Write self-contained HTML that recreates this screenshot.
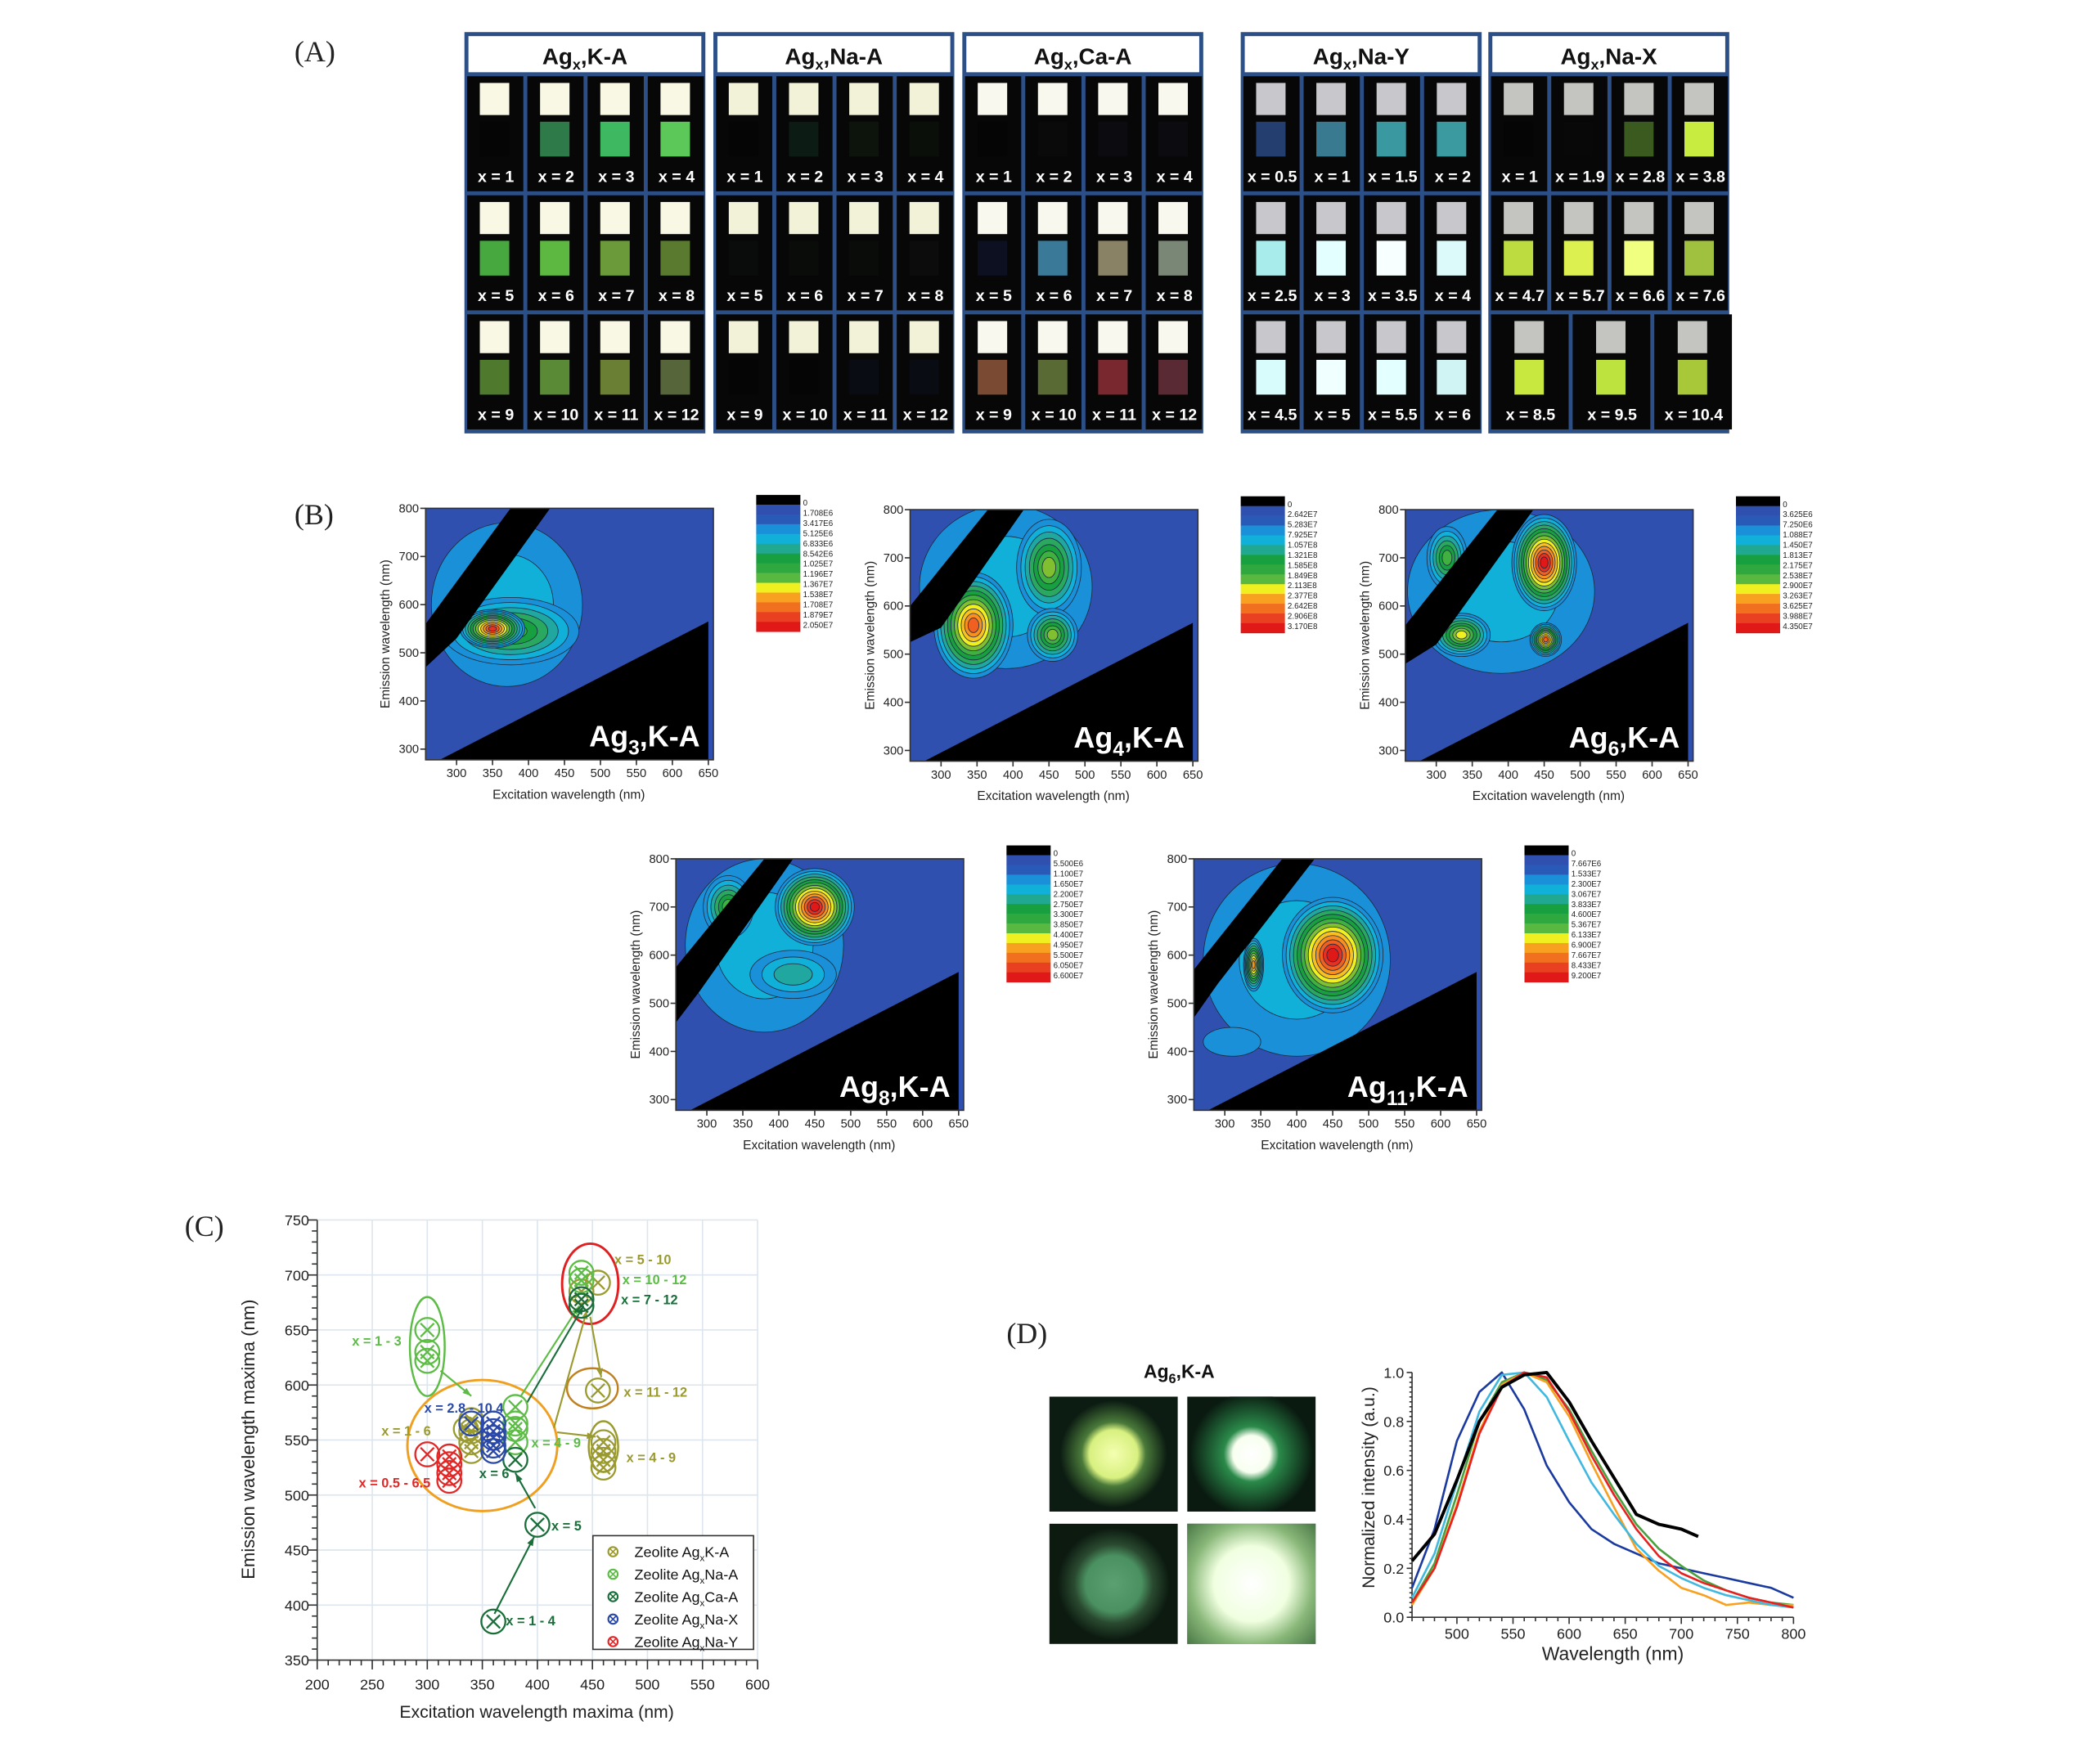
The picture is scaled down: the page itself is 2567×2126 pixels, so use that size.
<!DOCTYPE html>
<html><head><meta charset="utf-8"><style>
html,body{margin:0;padding:0;background:#fff;}
svg{display:block;font-family:"Liberation Sans",sans-serif;}
.serif{font-family:"Liberation Serif",serif;}
</style></head>
<body>
<svg id="fig" width="2567" height="2126" viewBox="0 0 1569 1300" preserveAspectRatio="none" xmlns="http://www.w3.org/2000/svg">
<defs>
<radialGradient id="g1"><stop offset="0" stop-color="#f4ffb0"/><stop offset="0.45" stop-color="#d8f080"/><stop offset="0.6" stop-color="#4a7a3a"/><stop offset="1" stop-color="#0c1c12"/></radialGradient>
<radialGradient id="g2"><stop offset="0" stop-color="#ffffff"/><stop offset="0.3" stop-color="#f8fff0"/><stop offset="0.45" stop-color="#2a8a4a"/><stop offset="1" stop-color="#0a1a10"/></radialGradient>
<radialGradient id="g3"><stop offset="0" stop-color="#5aa070"/><stop offset="0.5" stop-color="#4a9060"/><stop offset="0.7" stop-color="#2a4a30"/><stop offset="1" stop-color="#0c1a10"/></radialGradient>
<radialGradient id="g4"><stop offset="0" stop-color="#ffffff"/><stop offset="0.4" stop-color="#f0ffe0"/><stop offset="0.65" stop-color="#8ab87a"/><stop offset="1" stop-color="#3a6a3a"/></radialGradient>
</defs>
<g id="panelA"></g>
<g id="panelB"></g>
<g id="panelC"></g>
<g id="panelD"></g>
</svg>
<script>
const NS="http://www.w3.org/2000/svg";
function mk(parent,tag,attrs,text){const e=document.createElementNS(NS,tag);for(const k in attrs)e.setAttribute(k,attrs[k]);if(text!==undefined)e.textContent=text;parent.appendChild(e);return e;}

/* ---------------- Panel A ---------------- */
const aGroups=["K-A","Na-A","Ca-A","Na-Y","Na-X"];
const aGroupX=[347,533,719,927,1112];
const aLabels=[
 ["1","2","3","4","5","6","7","8","9","10","11","12"],
 ["1","2","3","4","5","6","7","8","9","10","11","12"],
 ["1","2","3","4","5","6","7","8","9","10","11","12"],
 ["0.5","1","1.5","2","2.5","3","3.5","4","4.5","5","5.5","6"],
 ["1","1.9","2.8","3.8","4.7","5.7","6.6","7.6","8.5","9.5","10.4"]];
const aGlow=[
 ["#050505","#2e7a48","#3fb862","#5cc85a","#48a840","#5cb840","#6a9a3a","#5a7a30","#4f7a2e","#5a8a36","#6a7e34","#56663a"],
 ["#050505","#0c1c14","#0c140c","#0a0f0a","#0a0c0c","#0a0c0a","#0a0c0a","#0c0c0c","#050505","#050505","#0a0c14","#0a0c14"],
 ["#050505","#0a0a0a","#0c0c10","#0c0c10","#0c1020","#3a7a98","#8a8264","#7a8676","#7a4a32","#5a6a34","#7a2830","#5a2a34"],
 ["#243e70","#3a7a90","#3a98a0","#3a9aa0","#a8ecec","#e4ffff","#f8ffff","#dcfafa","#d8fcfc","#f0ffff","#e4ffff","#d0f4f4"],
 ["#050505","#080808","#3a5a20","#c8ec40","#bcdc40","#dcf050","#f0ff80","#a0c040","#c8e840","#bde43e","#a8c83a"]];
const aTop=["#f8f8e4","#f2f2d8","#f8f8ee","#c8c8cc","#c4c4c0"];
(function(){
 const g=document.getElementById('panelA');
 const t=mk(g,'text',{x:220,y:46,'font-size':22,class:'serif',fill:'#222'},'(A)');
 
 aGroups.forEach((name,gi)=>{
  const x0=aGroupX[gi];
  const box=mk(g,'g',{});
  mk(box,'rect',{x:x0,y:24,width:180,height:300,fill:'#2b4f86'});
  mk(box,'rect',{x:x0+3,y:27,width:174,height:27,fill:'#fff'});
  const ht=mk(box,'text',{x:x0+90,y:48,'text-anchor':'middle','font-size':17,'font-weight':'bold',fill:'#111'});
  
  mk(ht,'tspan',{},'Ag');mk(ht,'tspan',{'font-size':11,dy:4},'x');mk(ht,'tspan',{dy:-4},','+name);
  const labs=aLabels[gi];
  labs.forEach((lb,i)=>{
   const row=Math.floor(i/4);let col=i%4, n=4;
   if(gi===4&&row===2){n=3;}
   const w=(n===3?183:180)/n;
   const cx=x0+col*w, cy=57+row*89;
   const cell=mk(box,'g',{});
   mk(cell,'rect',{x:cx+2,y:cy,width:w-3,height:86,fill:'#070707'});
   mk(cell,'rect',{x:cx+w/2-11,y:cy+5,width:22,height:24,fill:aTop[gi]});
   mk(cell,'rect',{x:cx+w/2-11,y:cy+34,width:22,height:26,fill:aGlow[gi][i]});
   mk(cell,'text',{x:cx+w/2+1,y:cy+79,'text-anchor':'middle','font-size':12,'font-weight':'bold',fill:'#fff'},'x = '+lb);
  });
 });
})();

/* ---------------- Panel B (excitation-emission maps) ---------------- */
const bTitles=["3","4","6","8","11"];
const bFrameX=[318,680,1050,505,892];
const bFrameY=[380,381,381,642,642];
const bColorbar=[
 ["0","1.708E6","3.417E6","5.125E6","6.833E6","8.542E6","1.025E7","1.196E7","1.367E7","1.538E7","1.708E7","1.879E7","2.050E7"],
 ["0","2.642E7","5.283E7","7.925E7","1.057E8","1.321E8","1.585E8","1.849E8","2.113E8","2.377E8","2.642E8","2.906E8","3.170E8"],
 ["0","3.625E6","7.250E6","1.088E7","1.450E7","1.813E7","2.175E7","2.538E7","2.900E7","3.263E7","3.625E7","3.988E7","4.350E7"],
 ["0","5.500E6","1.100E7","1.650E7","2.200E7","2.750E7","3.300E7","3.850E7","4.400E7","4.950E7","5.500E7","6.050E7","6.600E7"],
 ["0","7.667E6","1.533E7","2.300E7","3.067E7","3.833E7","4.600E7","5.367E7","6.133E7","6.900E7","7.667E7","8.433E7","9.200E7"]];
/* blobs: [excitation, emission, half-width nm, half-height nm, number of contour levels] */
const bBlobs=[
 [[370,600,105,170,2],[375,545,95,70,6],[350,550,45,40,12]],
 [[390,640,120,170,2],[345,560,55,110,11],[450,680,45,100,7],[455,540,35,55,7]],
 [[390,630,130,170,2],[450,690,45,100,13],[452,530,22,35,11],[335,540,40,45,8],[315,700,28,65,6]],
 [[380,620,110,180,2],[450,700,55,80,13],[330,700,35,65,6],[420,560,60,50,3]],
 [[400,590,130,200,2],[450,600,70,120,13],[340,580,14,55,10],[310,420,40,30,1]]];
const bStripe=[[[375,800],[430,800],[300,530],[257,470],[257,560]],[[365,800],[415,800],[300,555],[257,525],[257,600]],[[385,800],[435,800],[300,520],[257,480],[257,560]],[[380,800],[420,800],[290,525],[257,460],[257,575]],[[380,800],[425,800],[290,540],[257,470],[257,570]]];
const bLower=[[277,278],[650,278],[650,565]];
const bTicksX=[300,350,400,450,500,550,600,650];
const bTicksY=[300,400,500,600,700,800];
const levelColors=["#2b4aa6","#1a90d8","#10b0d8","#20a8a0","#2aa860","#18a040","#40b040","#80c030","#f0f020","#f8c020","#f89020","#f06020","#e83020","#e01818"];
(function(){
 const g=document.getElementById('panelB');
 const t=mk(g,'text',{x:220,y:392,'font-size':22,class:'serif',fill:'#222'},'(B)');
 
 bTitles.forEach((ti,p)=>{
  const ox=bFrameX[p], oy=bFrameY[p], W=215, H=188;
  const sx=ex=>ox+(ex-257)*0.5375;
  const sy=em=>oy+(800-em)*0.36;
  const pg=mk(g,'g',{});
  const cid='clip'+p;const cp=mk(pg,'clipPath',{id:cid});mk(cp,'rect',{x:ox,y:oy,width:W,height:H});
  const inner=mk(pg,'g',{'clip-path':'url(#'+cid+')'});
  mk(inner,'rect',{x:ox,y:oy,width:W,height:H,fill:'#3050b0'});
  bBlobs[p].forEach(b=>{
   const n=b[4];
   for(let l=0;l<n;l++){
    const f=1-l/(n+0.6);
    const col=levelColors[Math.min(13,l+1)];
    const e=mk(inner,'ellipse',{cx:sx(b[0]),cy:sy(b[1]),rx:b[2]*0.5375*f,ry:b[3]*0.36*f,fill:col,stroke:'#1a2a40','stroke-width':0.5});
    
   }
  });
  const st=mk(inner,'polygon',{points:bStripe[p].map(q=>sx(q[0])+','+sy(q[1])).join(' '),fill:'#000'});
  
  const lw=mk(inner,'polygon',{points:bLower.map(q=>sx(q[0])+','+sy(q[1])).join(' '),fill:'#000'});
  
  mk(pg,'rect',{x:ox,y:oy,width:W,height:H,fill:'none',stroke:'#333','stroke-width':1});
  bTicksX.forEach(v=>{mk(pg,'line',{x1:sx(v),x2:sx(v),y1:oy+H,y2:oy+H+4,stroke:'#333'});mk(pg,'text',{x:sx(v),y:oy+H+13,'text-anchor':'middle','font-size':9,fill:'#222'},v);});
  bTicksY.forEach(v=>{mk(pg,'line',{x1:ox-4,x2:ox,y1:sy(v),y2:sy(v),stroke:'#333'});mk(pg,'text',{x:ox-5,y:sy(v)+3,'text-anchor':'end','font-size':9,fill:'#222'},v);});
  const xl=mk(pg,'text',{x:ox+107,y:oy+H+29,'text-anchor':'middle','font-size':9.5,fill:'#222'},'Excitation wavelength (nm)');
  
  const yl=mk(pg,'text',{x:0,y:0,transform:'translate('+(ox-27)+','+(oy+94)+') rotate(-90)','text-anchor':'middle','font-size':9.5,fill:'#222'},'Emission wavelength (nm)');
  
  const tt=mk(pg,'text',{x:ox+W-10,y:oy+H-10,'text-anchor':'end','font-size':22,'font-weight':'bold',fill:'#fff'});
  
  mk(tt,'tspan',{},'Ag');mk(tt,'tspan',{'font-size':15,dy:6},ti);mk(tt,'tspan',{dy:-6},',K-A');
  const cx=ox+247, cy=oy-10;
  const cb=mk(pg,'g',{});
  const cbCols=["#000","#3050b0","#2a5ab8","#1a90d8","#10b0d8","#20a890","#18a040","#30a840","#58b840","#f0f020","#f8a020","#f07020","#e84020","#e01818"];
  cbCols.forEach((c,i)=>mk(cb,'rect',{x:cx,y:cy+i*7.3,width:33,height:7.5,fill:c}));
  bColorbar[p].forEach((lb,i)=>mk(cb,'text',{x:cx+35,y:cy+8+i*7.6,'font-size':6,fill:'#222'},lb));
 });
})();

/* ---------------- Panel C (scatter) ---------------- */
const cSeries=["Zeolite Ag|K-A","Zeolite Ag|Na-A","Zeolite Ag|Ca-A","Zeolite Ag|Na-X","Zeolite Ag|Na-Y"];
const cColors=["#9a9a30","#5cbc45","#1a6e3a","#2a48a8","#e02828"];
const cKAx=[335,340,340,340,340,455,440,455,460,460,460,460];
const cKAy=[560,568,558,548,540,693,685,595,548,540,532,525];
const cNaAx=[300,300,300,380,380,380,380,440,440];
const cNaAy=[650,630,622,580,565,560,548,702,695];
const cCaAx=[380,400,360,440,440];
const cCaAy=[532,473,385,678,672];
const cNaXx=[340,360,360,360,360,360];
const cNaXy=[565,565,558,552,545,540];
const cNaYx=[300,320,320,320,320];
const cNaYy=[537,535,528,520,513];
const cTicksX=[200,250,300,350,400,450,500,550,600];
const cTicksY=[350,400,450,500,550,600,650,700,750];
(function(){
 const g=document.getElementById('panelC');
 const X=v=>237+(v-200)*(329/400), Y=v=>1241-(v-350)*(329/400);
 const t=mk(g,'text',{x:138,y:924,'font-size':22,class:'serif',fill:'#222'},'(C)');
 
 cTicksX.forEach(v=>{mk(g,'line',{x1:X(v),x2:X(v),y1:Y(750),y2:Y(350),stroke:'#dde6ee','stroke-width':1});});
 cTicksY.forEach(v=>{mk(g,'line',{x1:X(200),x2:X(600),y1:Y(v),y2:Y(v),stroke:'#dde6ee','stroke-width':1});});
 mk(g,'line',{x1:X(200),x2:X(200),y1:Y(750),y2:Y(350),stroke:'#333'});
 mk(g,'line',{x1:X(200),x2:X(600),y1:Y(350),y2:Y(350),stroke:'#333'});
 for(let v=200;v<=600;v+=10){mk(g,'line',{x1:X(v),x2:X(v),y1:Y(350),y2:Y(350)+(v%50?4:7),stroke:'#333'});}
 for(let v=350;v<=750;v+=10){mk(g,'line',{x1:X(200)-(v%50?4:7),x2:X(200),y1:Y(v),y2:Y(v),stroke:'#333'});}
 cTicksX.forEach(v=>mk(g,'text',{x:X(v),y:Y(350)+22,'text-anchor':'middle','font-size':11,fill:'#222'},v));
 cTicksY.forEach(v=>mk(g,'text',{x:X(200)-6,y:Y(v)+4,'text-anchor':'end','font-size':11,fill:'#222'},v));
 const xl=mk(g,'text',{x:401,y:1284,'text-anchor':'middle','font-size':13,fill:'#222'},'Excitation wavelength maxima (nm)');
 
 const yl=mk(g,'text',{x:0,y:0,transform:'translate(190,1076) rotate(-90)','text-anchor':'middle','font-size':13.5,fill:'#222'},'Emission wavelength maxima (nm)');
 
 const ell=(cx,cy,rx,ry,col,w)=>{const e=mk(g,'ellipse',{cx:X(cx),cy:Y(cy),rx:rx,ry:ry,fill:'none',stroke:col,'stroke-width':w||1.5});};
 ell(350,545,56,49,'#f0a020',1.8);ell(448,692,21,30,'#e02020',1.8);ell(300,635,13,37,'#5cbc45');ell(450,597,19,15,'#c08020');ell(460,544,11,19,'#9a9a30');
 const arr=(x1,y1,x2,y2,col)=>{const l=mk(g,'line',{x1:X(x1),y1:Y(y1),x2:X(x2),y2:Y(y2),stroke:col,'stroke-width':1.3});
  const a=Math.atan2(Y(y2)-Y(y1),X(x2)-X(x1)),px=X(x2),py=Y(y2);mk(g,'polygon',{points:px+','+py+' '+(px-7*Math.cos(a-0.35))+','+(py-7*Math.sin(a-0.35))+' '+(px-7*Math.cos(a+0.35))+','+(py-7*Math.sin(a+0.35)),fill:col});};
 arr(312,613,340,590,'#5cbc45');arr(385,590,438,672,'#5cbc45');arr(390,583,442,672,'#1a6e3a');arr(415,561,445,668,'#9a9a30');
 arr(448,662,458,607,'#9a9a30');arr(418,557,453,553,'#9a9a30');arr(398,488,380,520,'#1a6e3a');arr(361,392,397,462,'#1a6e3a');
 const xs=[cKAx,cNaAx,cCaAx,cNaXx,cNaYx], ys=[cKAy,cNaAy,cCaAy,cNaXy,cNaYy];
 xs.forEach((arrX,si)=>{arrX.forEach((v,i)=>{
  const px=X(v),py=Y(ys[si][i]),r=9;
  const m=mk(g,'g',{});
  mk(m,'circle',{cx:px,cy:py,r:r,fill:'none',stroke:cColors[si],'stroke-width':1.4});
  mk(m,'path',{d:`M${px-5},${py-5}L${px+5},${py+5}M${px+5},${py-5}L${px-5},${py+5}`,stroke:cColors[si],'stroke-width':1.4});
 });});
 const lab=(x,y,s,col)=>{const e=mk(g,'text',{x:x,y:y,'font-size':10,'font-weight':'bold',fill:col},s);};
 lab(459,945,'x = 5 - 10','#9a9a30');lab(465,960,'x = 10 - 12','#5cbc45');lab(464,975,'x = 7 - 12','#1a6e3a');
 lab(263,1006,'x = 1 - 3','#5cbc45');lab(466,1044,'x = 11 - 12','#9a9a30');lab(317,1056,'x = 2.8 - 10.4','#2a48a8');
 lab(285,1073,'x = 1 - 6','#9a9a30');lab(397,1082,'x = 4 - 9','#5cbc45');lab(468,1093,'x = 4 - 9','#9a9a30');
 lab(358,1105,'x = 6','#1a6e3a');lab(268,1112,'x = 0.5 - 6.5','#e02828');lab(412,1144,'x = 5','#1a6e3a');lab(378,1215,'x = 1 - 4','#1a6e3a');
 const lg=mk(g,'g',{});
 mk(lg,'rect',{x:443,y:1148,width:120,height:85,fill:'#fff',stroke:'#333','stroke-width':1});
 cSeries.forEach((s,i)=>{
  const yy=1160+i*16.8;
  const en=mk(lg,'g',{});
  mk(en,'circle',{cx:458,cy:yy,r:3.5,fill:'none',stroke:cColors[i],'stroke-width':1.3});
  mk(en,'path',{d:`M${455.5},${yy-2.5}L${460.5},${yy+2.5}M${460.5},${yy-2.5}L${455.5},${yy+2.5}`,stroke:cColors[i]});
  const tx=mk(en,'text',{x:474,y:yy+4,'font-size':11,fill:'#111'});
  const p=s.split('|');mk(tx,'tspan',{},p[0]);mk(tx,'tspan',{'font-size':7,dy:3},'x');mk(tx,'tspan',{dy:-3},p[1]);
 });
})();

/* ---------------- Panel D (spectra) ---------------- */
const dWl=[460,480,500,520,540,560,580,600,620,640,660,680,700,720,740,760,780,800];
const dBlue=[0.12,0.36,0.72,0.92,1.0,0.85,0.62,0.47,0.36,0.3,0.26,0.22,0.2,0.18,0.16,0.14,0.12,0.08];
const dCyan=[0.08,0.26,0.55,0.84,0.99,1.0,0.9,0.72,0.55,0.42,0.3,0.21,0.16,0.12,0.09,0.07,0.05,0.04];
const dGreen=[0.06,0.22,0.5,0.8,0.96,1.0,0.97,0.85,0.68,0.52,0.38,0.28,0.21,0.15,0.11,0.08,0.06,0.05];
const dOrange=[0.05,0.2,0.46,0.76,0.95,1.0,0.96,0.82,0.63,0.45,0.28,0.19,0.12,0.09,0.05,0.06,0.05,0.05];
const dRed=[0.06,0.2,0.45,0.75,0.94,1.0,0.98,0.84,0.66,0.5,0.36,0.25,0.18,0.14,0.11,0.08,0.06,0.04];
const dBlackWl=[460,480,500,520,540,560,580,600,620,640,660,680,700,715];
const dBlack=[0.23,0.34,0.56,0.8,0.94,0.99,1.0,0.88,0.72,0.57,0.42,0.38,0.36,0.33];
const dTicksX=[500,550,600,650,700,750,800];
const dTicksY=[0.0,0.2,0.4,0.6,0.8,1.0];
(function(){
 const g=document.getElementById('panelD');
 const t=mk(g,'text',{x:752,y:1004,'font-size':22,class:'serif',fill:'#222'},'(D)');
 
 const ti=mk(g,'text',{x:881,y:1030,'text-anchor':'middle','font-size':14,'font-weight':'bold',fill:'#111'});
 
 mk(ti,'tspan',{},'Ag');mk(ti,'tspan',{'font-size':10,dy:4},'6');mk(ti,'tspan',{dy:-4},',K-A');
 const ph=[[784,1044,'g1',40,'#0c1c12'],[887,1044,'g2',46,'#0a1a10'],[784,1139,'g3',42,'#0c1a10'],[887,1139,'g4',70,'#3a6a3a']];
 ph.forEach((p,i)=>{
  const e=mk(g,'g',{});
  const h=(i<2?86:90);
  const cp=mk(e,'clipPath',{id:'ph'+i});mk(cp,'rect',{x:p[0],y:p[1],width:96,height:h});
  const inner=mk(e,'g',{'clip-path':'url(#ph'+i+')'});
  mk(inner,'rect',{x:p[0],y:p[1],width:96,height:h,fill:p[4]});
  mk(inner,'circle',{cx:p[0]+48,cy:p[1]+h/2,r:p[3],fill:'url(#'+p[2]+')'});
 });
 const X=v=>1055+(v-460)*(285/340), Y=v=>1209-v*183;
 mk(g,'line',{x1:X(460),x2:X(460),y1:Y(1),y2:Y(0),stroke:'#333'});
 mk(g,'line',{x1:X(460),x2:X(800),y1:Y(0),y2:Y(0),stroke:'#333'});
 for(let v=460;v<=800;v+=10)mk(g,'line',{x1:X(v),x2:X(v),y1:Y(0),y2:Y(0)+(v%50?3:5),stroke:'#333'});
 for(let k=0;k<=50;k++)mk(g,'line',{x1:X(460)-(k%10?2:4),x2:X(460),y1:Y(k/50),y2:Y(k/50),stroke:'#333'});
 dTicksX.forEach(v=>mk(g,'text',{x:X(v),y:Y(0)+16,'text-anchor':'middle','font-size':11,fill:'#222'},v));
 dTicksY.forEach(v=>mk(g,'text',{x:X(460)-6,y:Y(v)+4,'text-anchor':'end','font-size':11,fill:'#222'},v.toFixed(1)));
 const xl=mk(g,'text',{x:1205,y:1241,'text-anchor':'middle','font-size':14,fill:'#222'},'Wavelength (nm)');
 
 const yl=mk(g,'text',{x:0,y:0,transform:'translate(1027,1112) rotate(-90)','text-anchor':'middle','font-size':13,fill:'#222'},'Normalized intensity (a.u.)');
 
 const line=(wl,vals,col,name,w)=>{const l=mk(g,'path',{d:vals.map((v,i)=>(i?'L':'M')+X(wl[i]).toFixed(1)+','+Y(v).toFixed(1)).join(''),fill:'none',stroke:col,'stroke-width':w||1.6,'stroke-linejoin':'round'});};
 line(dWl,dBlue,'#1a3aa0','spectrum-blue');line(dWl,dGreen,'#4aa040','spectrum-green');line(dWl,dOrange,'#f8a020','spectrum-orange');
 line(dWl,dCyan,'#40b8e0','spectrum-cyan');line(dWl,dRed,'#e82020','spectrum-red');line(dBlackWl,dBlack,'#000','spectrum-black',2.4);
})();
</script>
</body></html>
